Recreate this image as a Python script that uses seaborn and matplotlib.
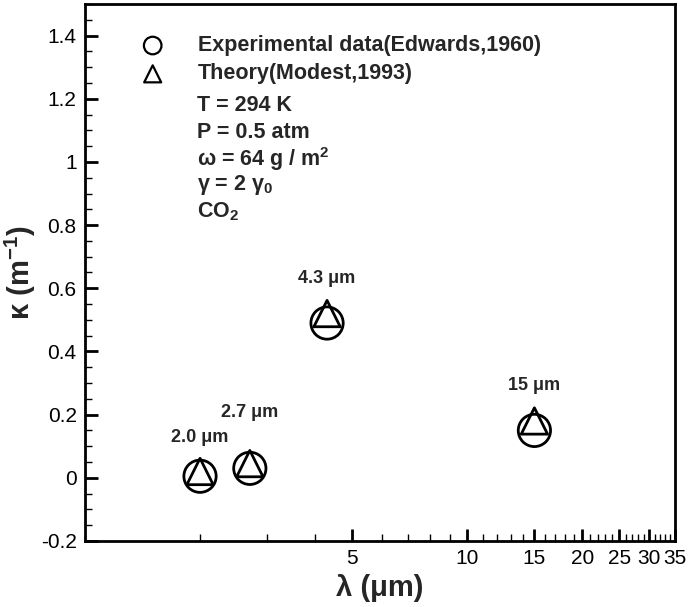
import numpy as np
import matplotlib
matplotlib.use("Agg")
import matplotlib.pyplot as plt
import matplotlib.ticker as mticker
import seaborn as sns

# Data
wavelength = [2.0, 2.7, 4.3, 15.0]
kappa_exp = [0.005, 0.03, 0.49, 0.15]
kappa_theory = [0.02, 0.045, 0.52, 0.18]
band_labels = ["2.0 μm", "2.7 μm", "4.3 μm", "15 μm"]
band_offsets = [28, 40, 32, 32]

x_ticks = [5, 10, 15, 20, 25, 30, 35]
y_ticks = [-0.2, 0, 0.2, 0.4, 0.6, 0.8, 1, 1.2, 1.4]

info_lines = [
    "T = 294 K",
    "P = 0.5 atm",
    r"ω = 64 g / m$^{2}$",
    r"γ = 2 γ$_{0}$",
    r"CO$_{2}$",
]

sns.set_theme(style="ticks")
plt.rcParams["font.family"] = ["Liberation Sans", "DejaVu Sans"]
plt.rcParams["mathtext.fontset"] = "custom"
plt.rcParams["mathtext.rm"] = "Liberation Sans:bold"
plt.rcParams["mathtext.bf"] = "Liberation Sans:bold"
plt.rcParams["mathtext.default"] = "rm"
plt.rcParams["axes.unicode_minus"] = False

fig = plt.figure(figsize=(6.88, 6.07), dpi=100)
ax = fig.add_axes([85 / 688, 1 - 541 / 607, 590 / 688, 537 / 607])

sns.scatterplot(x=wavelength, y=kappa_exp, ax=ax, marker="o", s=540,
                facecolors="none", edgecolor="black", linewidth=2,
                label="Experimental data(Edwards,1960)", zorder=3)
sns.scatterplot(x=wavelength, y=kappa_theory, ax=ax, marker="^", s=360,
                facecolors="none", edgecolor="black", linewidth=2,
                label="Theory(Modest,1993)", zorder=4)

for xv, yv, lab, off in zip(wavelength, kappa_exp, band_labels, band_offsets):
    ax.annotate(lab, (xv, yv), xytext=(0, off), textcoords="offset points",
                ha="center", va="center", fontsize=13, fontweight="bold")

ax.set_xscale("log")
ax.set_xlim(1, 35)
ax.set_ylim(-0.2, 1.5)
ax.xaxis.set_major_locator(mticker.FixedLocator(x_ticks))
ax.xaxis.set_major_formatter(mticker.FixedFormatter([str(t) for t in x_ticks]))
ax.xaxis.set_minor_locator(mticker.FixedLocator([v for v in range(1, 36) if v not in x_ticks]))
ax.xaxis.set_minor_formatter(mticker.NullFormatter())
ax.yaxis.set_major_locator(mticker.FixedLocator(y_ticks))
ax.yaxis.set_major_formatter(mticker.FuncFormatter(lambda v, p: "%g" % round(v, 2)))
ax.yaxis.set_minor_locator(mticker.AutoMinorLocator(4))

ax.tick_params(which="both", direction="in", top=False, right=False, colors="black")
ax.tick_params(which="major", length=9, width=2, labelsize=15, pad=6)
ax.tick_params(which="minor", length=5, width=1)
for sp in ax.spines.values():
    sp.set_linewidth(2)
    sp.set_color("black")
    sp.set_visible(True)

ax.set_xlabel("λ (μm)", fontsize=21, fontweight="bold", labelpad=4)
ax.set_ylabel(r"κ (m$^{-1}$)", fontsize=21, fontweight="bold", labelpad=2)

leg = ax.legend(loc="upper left", bbox_to_anchor=(0.06, 0.962), frameon=False,
                prop={"size": 15.5, "weight": "bold"},
                handletextpad=1.1, handlelength=2, labelspacing=0.34, borderpad=0)
# legend symbols a bit smaller than the plotted ones, triangle close to circle size
leg.legend_handles[0].set_sizes([160])
leg.legend_handles[1].set_sizes([150])
leg.legend_handles[0].set_linewidth(1.6)
leg.legend_handles[1].set_linewidth(1.6)

for i, line in enumerate(info_lines):
    ax.text(0.19, 0.811 - i * 0.0495, line, transform=ax.transAxes,
            fontsize=15.5, fontweight="bold", va="center", ha="left")

fig.savefig("out.png", dpi=100)
